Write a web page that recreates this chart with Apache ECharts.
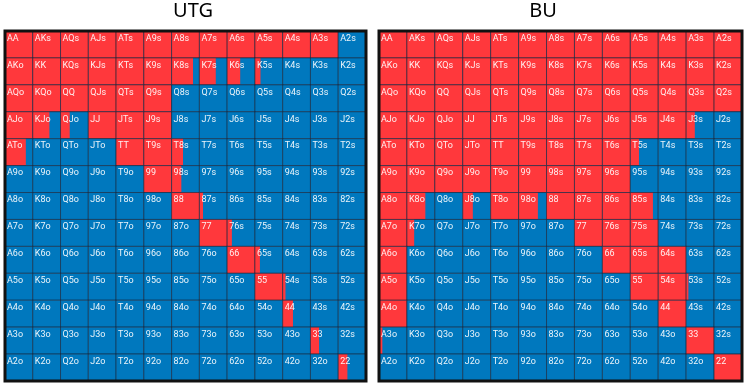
<!DOCTYPE html>
<html><head><meta charset="utf-8">
<script src="https://cdn.jsdelivr.net/npm/echarts@6/dist/echarts.min.js"></script>
<style>html,body{margin:0;padding:0;background:#fff}#c{width:750px;height:389px}</style>
</head><body><div id="c"></div>
<script>
// Hand ranks (rows / columns of the 13x13 grid)
const ranks = ['A','K','Q','J','T','9','8','7','6','5','4','3','2'];
const panelTitles = ['UTG', 'BU'];

// Raise fraction per cell (red portion, from the left), rows = first rank
const utgRaise = [
  [1,1,1,1,1,1,1,1,1,1,1,1,0],
  [1,1,1,1,1,1,0.77,0.59,0.47,0.2,0,0,0],
  [1,1,1,1,1,1,0,0,0,0,0,0,0],
  [1,0.6,0.33,1,1,1,0,0,0,0,0,0,0],
  [0.75,0,0,0,1,1,0.41,0,0,0,0,0,0],
  [0,0,0,0,0,1,0.35,0,0,0,0,0,0],
  [0,0,0,0,0,0,1,0.13,0,0,0,0,0],
  [0,0,0,0,0,0,0,1,0.17,0,0,0,0],
  [0,0,0,0,0,0,0,0,1,0.18,0,0,0],
  [0,0,0,0,0,0,0,0,0,1,0.1,0,0],
  [0,0,0,0,0,0,0,0,0,0,0.37,0,0],
  [0,0,0,0,0,0,0,0,0,0,0,0.31,0],
  [0,0,0,0,0,0,0,0,0,0,0,0,0.33]
];
const buRaise = [
  [1,1,1,1,1,1,1,1,1,1,1,1,1],
  [1,1,1,1,1,1,1,1,1,1,1,1,1],
  [1,1,1,1,1,1,1,1,1,1,1,1,1],
  [1,1,1,1,1,1,1,1,1,1,1,0.31,0],
  [1,1,1,1,1,1,1,1,1,0.31,0,0,0],
  [1,1,1,1,1,1,1,1,1,0,0,0,0],
  [1,0.66,0,0.36,1,0.69,1,1,1,0.81,0,0,0],
  [1,0.26,0,0,0,0,0,1,1,1,0,0,0],
  [1,0,0,0,0,0,0,0,1,1,1,0,0],
  [1,0,0,0,0,0,0,0,0,1,1,0.08,0],
  [1,0,0,0,0,0,0,0,0,0,1,0,0],
  [0.12,0,0,0,0,0,0,0,0,0,0,1,0],
  [0,0,0,0,0,0,0,0,0,0,0,0,1]
];

const RED = '#FF383C', BLUE = '#0078BE';

function handLabel(r, c) {
  if (r === c) return ranks[r] + ranks[c];
  if (r < c) return ranks[r] + ranks[c] + 's';
  return ranks[c] + ranks[r] + 'o';
}
function toData(mat) {
  const out = [];
  for (let r = 0; r < 13; r++) for (let c = 0; c < 13; c++) out.push([c, r, mat[r][c]]);
  return out;
}
function renderItem(params, api) {
  const c = api.value(0), r = api.value(1), f = api.value(2);
  const p0 = api.coord([c, r]);
  const p1 = api.coord([c + 1, r + 1]);
  const pf = api.coord([c + f, r]);
  const x = p0[0], y = p0[1], w = p1[0] - p0[0], h = p1[1] - p0[1];
  const children = [
    { type: 'rect', shape: { x: x, y: y, width: w, height: h }, style: { fill: BLUE } }
  ];
  if (f > 0) children.push({ type: 'rect', shape: { x: x, y: y, width: pf[0] - x, height: h }, style: { fill: RED } });
  children.push({ type: 'rect', shape: { x: x, y: y, width: w, height: h }, style: { fill: 'none', stroke: 'rgba(20,30,50,0.55)', lineWidth: 1 } });
  children.push({ type: 'text', style: { text: handLabel(r, c), x: x + 2, y: y + 3, fill: 'rgba(255,255,255,0.92)', fontSize: 9, fontFamily: 'Roboto', align: 'left', verticalAlign: 'top' } });
  return { type: 'group', children: children };
}

const grids = [
  { left: 5, top: 31, width: 361, height: 350 },
  { left: 379, top: 31, width: 363, height: 350 }
];
const chart = echarts.init(document.getElementById('c'), null, { renderer: 'canvas' });
const option = {
  animation: false,
  backgroundColor: '#fff',
  grid: grids.map(g => Object.assign({ show: true, backgroundColor: 'transparent', borderColor: '#111', borderWidth: 3, z: 10 }, g)),
  xAxis: [0, 1].map(i => ({ type: 'value', gridIndex: i, min: 0, max: 13, show: false })),
  yAxis: [0, 1].map(i => ({ type: 'value', gridIndex: i, min: 0, max: 13, inverse: true, show: false })),
  graphic: [
    { type: 'text', x: 193, y: 1, style: { text: panelTitles[0], align: 'center', verticalAlign: 'top', fontSize: 20, fontFamily: 'Noto Sans', fill: '#000' } },
    { type: 'text', x: 543, y: 1, style: { text: panelTitles[1], align: 'center', verticalAlign: 'top', fontSize: 20, fontFamily: 'Noto Sans', fill: '#000' } }
  ],
  series: [
    { type: 'custom', xAxisIndex: 0, yAxisIndex: 0, renderItem: renderItem, data: toData(utgRaise), silent: true },
    { type: 'custom', xAxisIndex: 1, yAxisIndex: 1, renderItem: renderItem, data: toData(buRaise), silent: true }
  ]
};
chart.setOption(option);
</script></body></html>
